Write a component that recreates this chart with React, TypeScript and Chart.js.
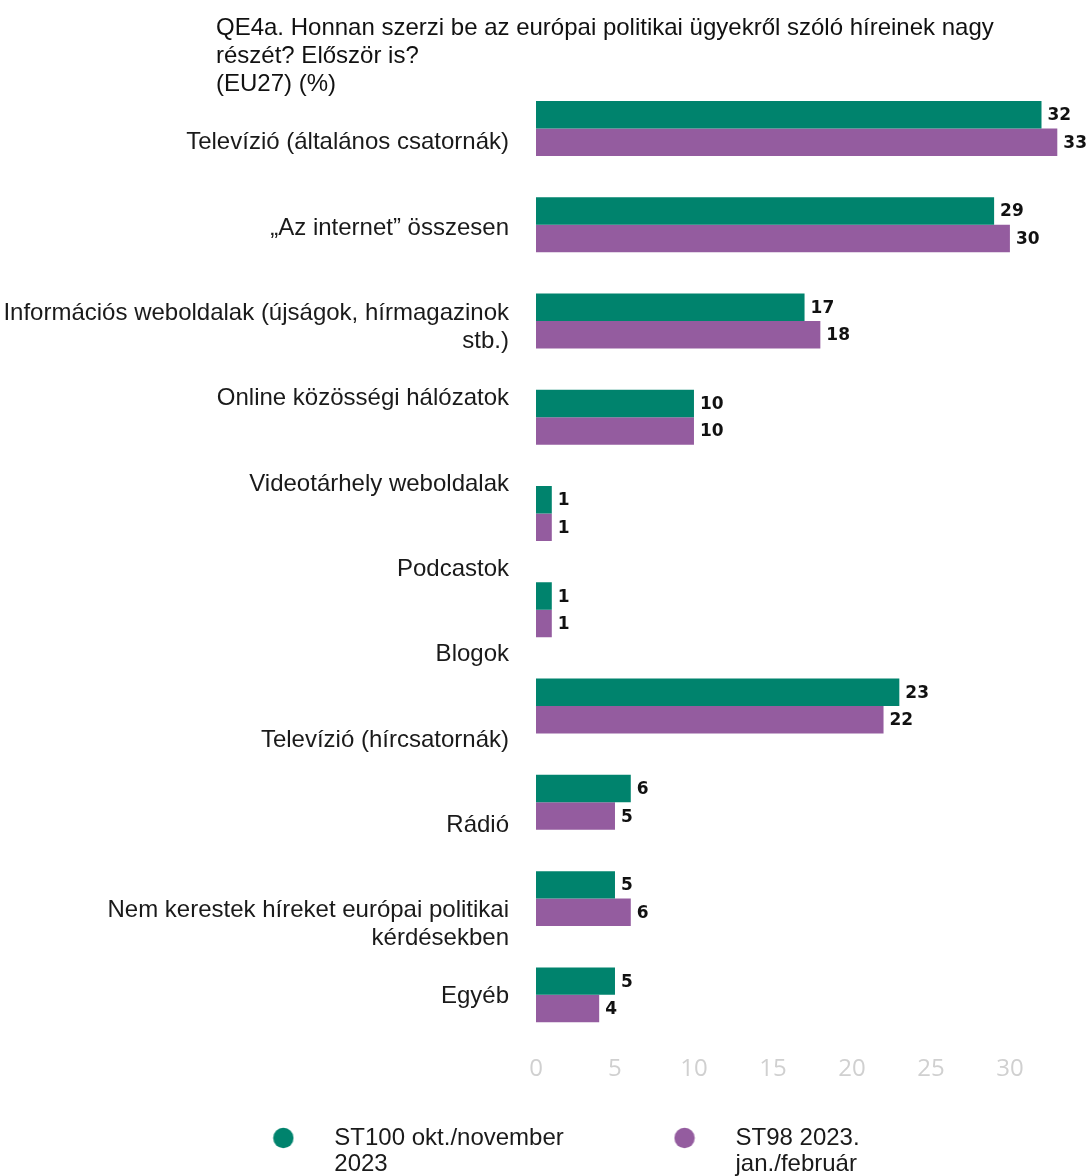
import React, { useEffect, useRef } from "react";
import { Chart, registerables } from "chart.js";

Chart.register(...registerables);

const titleLines = [
  "QE4a. Honnan szerzi be az európai politikai ügyekről szóló híreinek nagy",
  "részét? Először is?",
  "(EU27) (%)",
];

// categories that carry bars
const barCategories = [
  "Televízió (általános csatornák)",
  "„Az internet” összesen",
  "Információs weboldalak (újságok, hírmagazinok stb.)",
  "Online közösségi hálózatok",
  "Videotárhely weboldalak",
  "Podcastok",
  "Televízió (hírcsatornák)",
  "Rádió",
  "Nem kerestek híreket európai politikai kérdésekben",
  "Egyéb",
];

// category labels as printed on the axis
const axisLabels: string[][] = [
  ["Televízió (általános csatornák)"],
  ["„Az internet” összesen"],
  ["Információs weboldalak (újságok, hírmagazinok", "stb.)"],
  ["Online közösségi hálózatok"],
  ["Videotárhely weboldalak"],
  ["Podcastok"],
  ["Blogok"],
  ["Televízió (hírcsatornák)"],
  ["Rádió"],
  ["Nem kerestek híreket európai politikai", "kérdésekben"],
  ["Egyéb"],
];

const seriesNames = ["ST100 okt./november 2023", "ST98 2023. jan./február"];
const legendLines = [
  ["ST100 okt./november", "2023"],
  ["ST98 2023.", "jan./február"],
];
const seriesOctNov2023 = [32, 29, 17, 10, 1, 1, 23, 6, 5, 5];
const seriesJanFeb2023 = [33, 30, 18, 10, 1, 1, 22, 5, 6, 4];
const seriesColors = ["#00836d", "#945c9f"];

const xMin = 0;
const xMax = 34.5;
const xStep = 5;

function makeDot(color: string) {
  const c = document.createElement("canvas");
  c.width = 22;
  c.height = 22;
  const g = c.getContext("2d")!;
  g.fillStyle = color;
  g.beginPath();
  g.arc(11, 11, 10.2, 0, Math.PI * 2);
  g.fill();
  return c;
}

const valueLabels = {
  id: "valueLabels",
  afterDatasetsDraw(chart: any) {
    const ctx = chart.ctx;
    ctx.save();
    ctx.font = 'bold 17px "DejaVu Sans"';
    ctx.fillStyle = "#111111";
    ctx.textBaseline = "middle";
    ctx.textAlign = "left";
    chart.data.datasets.forEach((ds: any, di: number) => {
      const meta = chart.getDatasetMeta(di);
      meta.data.forEach((el: any, j: number) => {
        ctx.fillText(String(ds.data[j]), el.x + 6, el.y + 1);
      });
    });
    ctx.restore();
  },
};

// nudges the title and the legend boxes after layout
const boxTweaks = {
  id: "boxTweaks",
  afterLayout(chart: any) {
    const t = chart.titleBlock;
    if (t) t.left = t.left + 216;
    const lg = chart.legend;
    if (lg) {
      lg.left += 75.5;
      lg.right += 75.5;
      lg.bottom += 16;
      lg.height += 16;
    }
  },
};

export default function App() {
  const ref = useRef<HTMLCanvasElement | null>(null);

  useEffect(() => {
    if (!ref.current) return;
    const dots = seriesColors.map(makeDot);
    const chart = new Chart(ref.current, {
      type: "bar",
      data: {
        labels: barCategories,
        datasets: [
          {
            label: seriesNames[0],
            data: seriesOctNov2023,
            backgroundColor: seriesColors[0],
            borderWidth: 0,
            barPercentage: 1,
            categoryPercentage: 0.571,
            xAxisID: "x",
            yAxisID: "y",
          },
          {
            label: seriesNames[1],
            data: seriesJanFeb2023,
            backgroundColor: seriesColors[1],
            borderWidth: 0,
            barPercentage: 1,
            categoryPercentage: 0.571,
            xAxisID: "x",
            yAxisID: "y",
          },
        ],
      },
      options: {
        indexAxis: "y",
        animation: false,
        responsive: false,
        maintainAspectRatio: false,
        layout: { padding: { left: 0, right: 8, top: 0, bottom: 16 } },
        scales: {
          x: {
            type: "linear",
            position: "bottom",
            min: xMin,
            max: xMax,
            grid: { display: false, drawTicks: false },
            border: { display: false },
            ticks: {
              stepSize: xStep,
              includeBounds: false,
              padding: 12,
              color: "#d0d0d0",
              font: { family: '"Open Sans", sans-serif', size: 24 },
            },
            afterFit: (s: any) => {
              s.height = 60;
            },
          },
          y: {
            type: "category",
            display: false,
            offset: true,
          },
          y2: {
            type: "linear",
            position: "left",
            bounds: "data",
            offset: false,
            min: -0.729,
            max: 10.549,
            reverse: true,
            grid: { display: false, drawTicks: false, offset: false },
            border: { display: false },
            afterBuildTicks: (s: any) => {
              s.ticks = axisLabels.map((_, i) => ({ value: i }));
            },
            ticks: {
              autoSkip: false,
              padding: 27,
              color: "#1a1a1a",
              font: { family: '"Liberation Sans", Arial, sans-serif', size: 24, lineHeight: 1.1667 },
              callback: (v: any) => {
                const i = Math.round(Number(v));
                if (i < 0 || i >= axisLabels.length) return "";
                const l = axisLabels[i];
                return l.length > 1 ? ["", ...l] : l[0];
              },
            },
            afterFit: (s: any) => {
              s.width = 536;
            },
          },
        },
        plugins: {
          tooltip: { enabled: false },
          title: {
            display: true,
            text: titleLines,
            align: "start",
            color: "#111111",
            font: { family: '"Liberation Sans", Arial, sans-serif', size: 24, weight: "normal", lineHeight: 1.1667 },
            padding: { top: 14, bottom: -17.6 },
          },
          legend: {
            display: true,
            position: "bottom",
            align: "center",
            labels: {
              usePointStyle: true,
              pointStyleWidth: 78,
              boxHeight: 14,
              padding: 23,
              color: "#1a1a1a",
              font: { family: '"Liberation Sans", Arial, sans-serif', size: 24, lineHeight: 1.0833 },
              generateLabels: (chart: any) =>
                chart.data.datasets.map((ds: any, i: number) => ({
                  text: legendLines[i],
                  fillStyle: seriesColors[i],
                  strokeStyle: seriesColors[i],
                  lineWidth: 0,
                  pointStyle: dots[i],
                  hidden: false,
                  datasetIndex: i,
                  fontColor: "#1a1a1a",
                })),
            },
          },
        },
      } as any,
      plugins: [valueLabels, boxTweaks],
    });
    return () => chart.destroy();
  }, []);

  return (
    <div style={{ position: "absolute", left: 0, top: 0, width: 1089, height: 1176 }}>
      <canvas ref={ref} width={1089} height={1176} style={{ display: "block" }} />
    </div>
  );
}
